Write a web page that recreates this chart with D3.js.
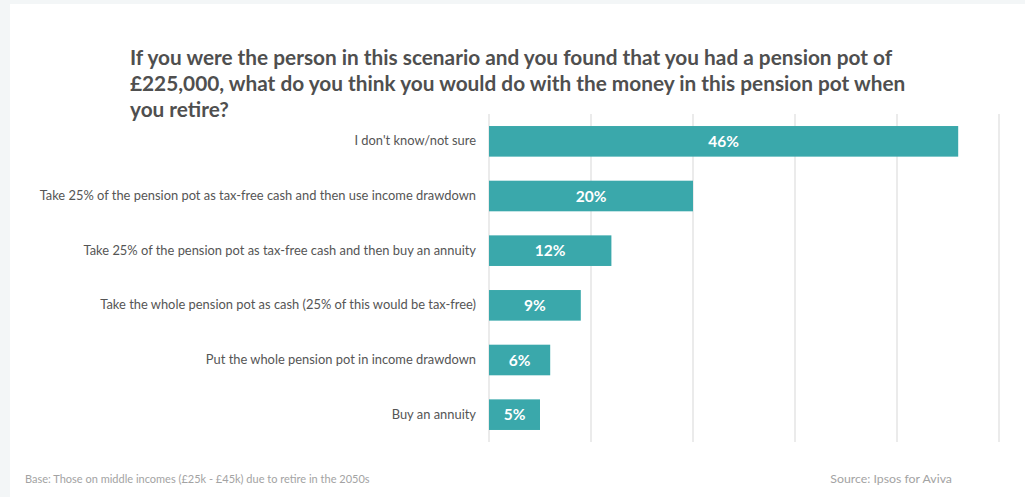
<!DOCTYPE html>
<html>
<head>
<meta charset="utf-8">
<script src="https://cdn.jsdelivr.net/npm/d3@7"></script>
<style>
  html, body { margin: 0; padding: 0; background: #f3f6f7; }
  svg { display: block; }
</style>
</head>
<body>
<svg id="chart" width="1025" height="497"></svg>
<script>
// Survey responses: what people would do with a £225,000 pension pot
const categories = [
  "I don't know/not sure",
  "Take 25% of the pension pot as tax-free cash and then use income drawdown",
  "Take 25% of the pension pot as tax-free cash and then buy an annuity",
  "Take the whole pension pot as cash (25% of this would be tax-free)",
  "Put the whole pension pot in income drawdown",
  "Buy an annuity"
];
const values = [46, 20, 12, 9, 6, 5];
const xTicks = [0, 10, 20, 30, 40, 50];
const titleLines = [
  "If you were the person in this scenario and you found that you had a pension pot of",
  "£225,000, what do you think you would do with the money in this pension pot when",
  "you retire?"
];
const footLeft = "Base: Those on middle incomes (£25k - £45k) due to retire in the 2050s";
const footRight = "Source: Ipsos for Aviva";

const FONT = "Lato, 'Open Sans', sans-serif";
const svg = d3.select("#chart");

// white card
svg.append("rect").attr("x", 10).attr("y", 4).attr("width", 1015).attr("height", 493).attr("fill", "#ffffff");

// title
const title = svg.append("text")
  .attr("font-family", FONT).attr("font-weight", 700).attr("font-size", 20.8)
  .attr("fill", "#4f4f4f");
titleLines.forEach((t, i) => {
  title.append("tspan").attr("x", 130).attr("y", 65 + i * 26).text(t);
});

const x = d3.scaleLinear().domain([0, 50]).range([489, 999]);
const y = d3.scaleBand().domain(categories).range([114, 442]).paddingInner(0.44).paddingOuter(0.22);

// vertical gridlines
svg.append("g").selectAll("line").data(xTicks).join("line")
  .attr("x1", d => x(d)).attr("x2", d => x(d))
  .attr("y1", 114).attr("y2", 442)
  .attr("stroke", "#e6e6e6").attr("stroke-width", 1.6);

// bars
svg.append("g").selectAll("rect").data(values).join("rect")
  .attr("x", x(0))
  .attr("y", (d, i) => y(categories[i]))
  .attr("width", d => x(d) - x(0))
  .attr("height", y.bandwidth())
  .attr("fill", "#3aa8ab");

// value labels inside bars
svg.append("g").selectAll("text").data(values).join("text")
  .attr("x", d => (x(0) + x(d)) / 2)
  .attr("y", (d, i) => y(categories[i]) + y.bandwidth() / 2)
  .attr("dy", "0.37em")
  .attr("text-anchor", "middle")
  .attr("font-family", FONT).attr("font-weight", 700).attr("font-size", 15.5)
  .attr("fill", "#ffffff")
  .text(d => d + "%");

// category labels
const yAxis = d3.axisLeft(y).tickSize(0).tickPadding(13);
const ya = svg.append("g").attr("transform", `translate(${x(0)},0)`).call(yAxis);
ya.select(".domain").remove();
ya.selectAll("text")
  .attr("font-family", FONT).attr("font-size", 12.9).attr("fill", "#555555");

// footer
svg.append("text").attr("x", 25).attr("y", 483)
  .attr("font-family", FONT).attr("font-size", 11).attr("fill", "#a3a3a3")
  .text(footLeft);
svg.append("text").attr("x", 952).attr("y", 483).attr("text-anchor", "end")
  .attr("font-family", FONT).attr("font-size", 12.3).attr("fill", "#a3a3a3")
  .text(footRight);
</script>
</body>
</html>
